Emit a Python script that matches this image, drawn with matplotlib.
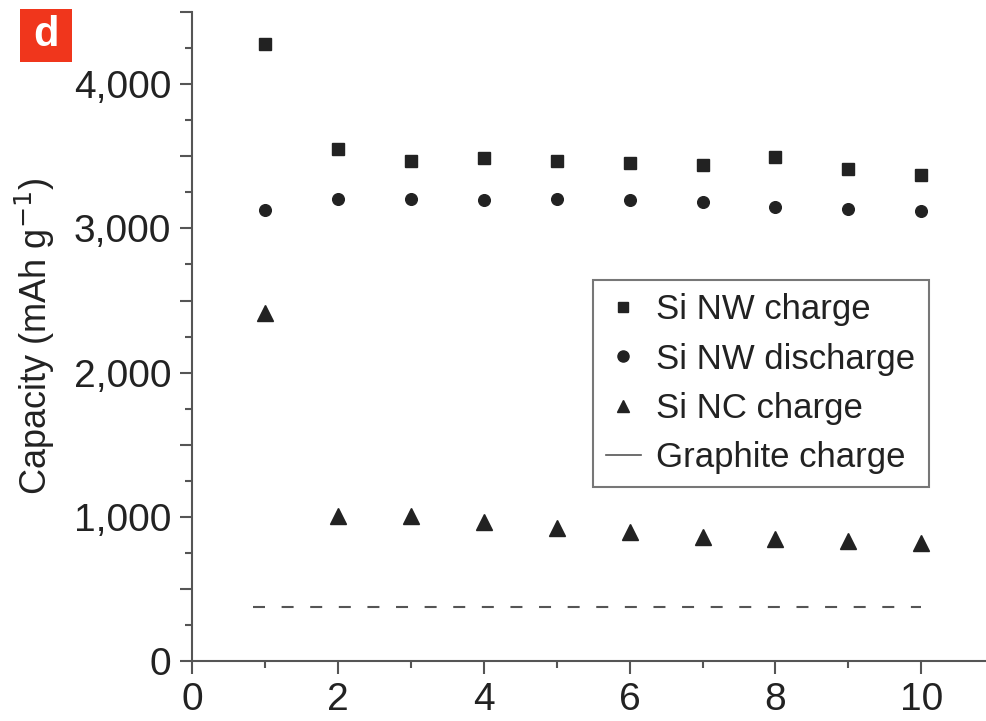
import matplotlib
matplotlib.use('Agg')
import matplotlib.pyplot as plt
from matplotlib.lines import Line2D
from matplotlib.patches import Rectangle
from matplotlib.ticker import MultipleLocator, FuncFormatter

plt.rcParams['font.family'] = ['Liberation Sans', 'DejaVu Sans']

# data
cycles = [1, 2, 3, 4, 5, 6, 7, 8, 9, 10]
nw_charge = [4280, 3550, 3466, 3487, 3466, 3452, 3438, 3494, 3411, 3369]
nw_discharge = [3126, 3203, 3203, 3196, 3203, 3196, 3182, 3147, 3133, 3120]
nc_charge = [2412, 1005, 1005, 964, 922, 894, 860, 846, 832, 818]
graphite_x = [0.84, 10]
graphite = [372, 372]

dark = '#222222'
axis_col = '#555555'

fig = plt.figure(figsize=(9.87, 7.21), dpi=100)
ax = fig.add_axes([0.1945, 0.0832, 0.8055, 0.900])

ax.plot(cycles, nw_charge, 's', color=dark, ms=8.8, label='Si NW charge')
ax.plot(cycles, nw_discharge, 'o', color=dark, ms=8.4, label='Si NW discharge')
ax.plot(cycles, nc_charge, '^', color=dark, ms=11.5, label='Si NC charge')
ax.plot(graphite_x, graphite, color=axis_col, lw=1.5, dashes=(5.76, 7.97))

ax.set_xlim(0, 10.9)
ax.set_ylim(0, 4500)

for s in ['top', 'right']:
    ax.spines[s].set_visible(False)
for s in ['left', 'bottom']:
    ax.spines[s].set_color(axis_col)
    ax.spines[s].set_linewidth(1.5)

ax.xaxis.set_major_locator(MultipleLocator(2))
ax.xaxis.set_minor_locator(MultipleLocator(1))
ax.yaxis.set_major_locator(MultipleLocator(500))
ax.yaxis.set_minor_locator(MultipleLocator(250))
ax.yaxis.set_major_formatter(FuncFormatter(lambda v, p: f'{int(v):,}' if v % 1000 == 0 else ''))

ax.tick_params(which='major', length=9, width=1.5, color=axis_col, labelsize=28, labelcolor=dark, pad=6)
ax.tick_params(which='minor', length=5, width=1.5, color=axis_col)

ax.set_ylabel('Capacity (mAh g$^{-1}$)', fontsize=26, color=dark, labelpad=12)

handles = [
    Line2D([], [], marker='s', ls='none', color=dark, ms=7),
    Line2D([], [], marker='o', ls='none', color=dark, ms=8),
    Line2D([], [], marker='^', ls='none', color=dark, ms=9),
    Line2D([], [], color=axis_col, lw=1.2),
]
labels = ['Si NW charge', 'Si NW discharge', 'Si NC charge', 'Graphite charge']
leg = ax.legend(handles, labels, loc='upper left', bbox_to_anchor=(0.504, 0.587),
                fontsize=25, frameon=True, fancybox=False, edgecolor=axis_col,
                handlelength=1.0, handletextpad=0.45, labelspacing=0.47,
                borderpad=0.38, borderaxespad=0)
leg.get_frame().set_linewidth(1.5)
for t in leg.get_texts():
    t.set_color(dark)

# panel label
fig.add_artist(Rectangle((0.0203, 0.914), 0.0527, 0.0735, transform=fig.transFigure,
                         fc='#f0361c', ec='none'))
fig.text(0.0466, 0.951, 'd', fontsize=30, fontweight='bold', color='white',
         ha='center', va='center')

fig.savefig('out.png', dpi=100)
